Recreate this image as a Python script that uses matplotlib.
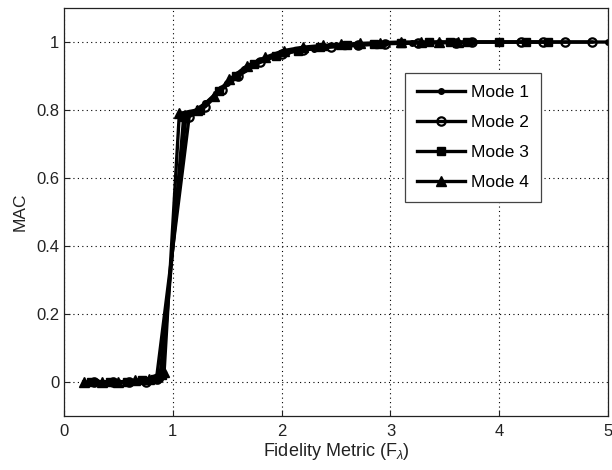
import matplotlib
matplotlib.use("Agg")
import matplotlib.pyplot as plt

plt.rcParams['font.family'] = ['Liberation Sans', 'DejaVu Sans']
plt.rcParams['mathtext.fontset'] = 'custom'
plt.rcParams['mathtext.rm'] = 'Liberation Sans'
plt.rcParams['mathtext.it'] = 'Liberation Sans:italic'

mode1_x = [0.30, 0.50, 0.65, 0.80, 0.88, 1.12, 1.30, 1.50, 1.65, 1.85, 2.05, 2.30, 2.50, 2.70, 2.95, 3.20, 3.45, 3.75, 4.00, 5.00]
mode1_y = [0.0, 0.0, 0.0, 0.005, 0.01, 0.78, 0.82, 0.88, 0.92, 0.95, 0.97, 0.98, 0.99, 0.993, 0.996, 0.998, 0.999, 1.0, 1.0, 1.0]

mode2_x = [0.28, 0.45, 0.60, 0.75, 0.85, 1.15, 1.30, 1.45, 1.60, 1.80, 2.00, 2.20, 2.45, 2.70, 2.95, 3.25, 3.60, 3.75, 4.20, 4.40, 4.60, 4.85]
mode2_y = [0.0, 0.0, 0.0, 0.0, 0.01, 0.78, 0.81, 0.86, 0.90, 0.94, 0.965, 0.978, 0.985, 0.99, 0.995, 0.997, 0.998, 1.0, 1.0, 1.0, 1.0, 1.0]

mode3_x = [0.25, 0.42, 0.58, 0.72, 0.84, 0.90, 1.10, 1.25, 1.42, 1.58, 1.75, 1.95, 2.15, 2.35, 2.60, 2.85, 3.10, 3.35, 3.55, 3.70, 4.00, 4.25, 4.45]
mode3_y = [0.0, 0.0, 0.0, 0.005, 0.01, 0.02, 0.78, 0.80, 0.855, 0.90, 0.935, 0.96, 0.975, 0.985, 0.99, 0.995, 0.998, 0.999, 1.0, 1.0, 1.0, 1.0, 1.0]

mode4_x = [0.18, 0.35, 0.50, 0.65, 0.78, 0.92, 1.06, 1.22, 1.38, 1.52, 1.68, 1.85, 2.02, 2.20, 2.38, 2.55, 2.72, 2.90, 3.10, 3.28, 3.45, 3.62]
mode4_y = [0.0, 0.0, 0.0, 0.005, 0.01, 0.03, 0.79, 0.80, 0.84, 0.89, 0.93, 0.955, 0.975, 0.985, 0.99, 0.993, 0.996, 0.998, 1.0, 1.0, 1.0, 1.0]

labels = ['Mode 1', 'Mode 2', 'Mode 3', 'Mode 4']
xticks = [0, 1, 2, 3, 4, 5]
yticks = [0, 0.2, 0.4, 0.6, 0.8, 1]

fig = plt.figure(figsize=(6.12, 4.70), dpi=100)
ax = fig.add_axes([0.1046, 0.1149, 0.889, 0.868])

lw = 2.4
ax.plot(mode1_x, mode1_y, color='black', lw=lw, marker='.', ms=8, label=labels[0])
ax.plot(mode2_x, mode2_y, color='black', lw=lw, marker='o', ms=6, mfc='none', mew=1.6, label=labels[1])
ax.plot(mode3_x, mode3_y, color='black', lw=lw, marker='s', ms=6, label=labels[2])
ax.plot(mode4_x, mode4_y, color='black', lw=lw, marker='^', ms=7, label=labels[3])

ax.set_xlim(0, 5)
ax.set_ylim(-0.1, 1.1)
ax.set_xticks(xticks)
ax.set_xticklabels([str(t) for t in xticks])
ax.set_yticks(yticks)
ax.set_yticklabels(['0', '0.2', '0.4', '0.6', '0.8', '1'])
ax.tick_params(direction='in', labelsize=12, colors='#222222', length=4)
ax.tick_params(axis='x', pad=6)
ax.grid(True, color='black', linestyle=(0, (1, 3)), linewidth=0.8)
for s in ax.spines.values():
    s.set_color('#222222')
    s.set_linewidth(0.9)

ax.set_xlabel(r'Fidelity Metric (F$_{\lambda}$)', fontsize=13, color='#222222', labelpad=1)
ax.set_ylabel('MAC', fontsize=12.5, color='#222222', labelpad=6)

leg = ax.legend(loc='upper left', bbox_to_anchor=(0.61, 0.863), fontsize=12.5,
                frameon=True, fancybox=False, edgecolor='#444444', framealpha=1,
                handlelength=2.8, labelspacing=0.85, borderpad=0.7, handletextpad=0.3)
leg.get_frame().set_linewidth(0.9)

fig.savefig('out.png', dpi=100)
